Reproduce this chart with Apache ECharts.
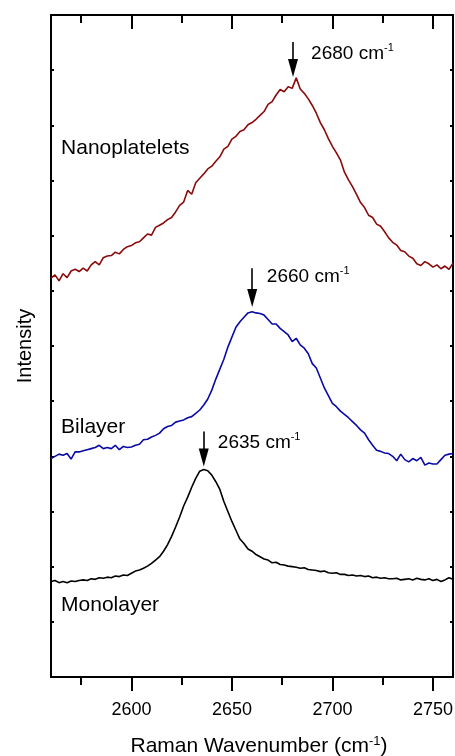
<!DOCTYPE html>
<html><head><meta charset="utf-8">
<script src="https://cdn.jsdelivr.net/npm/echarts@6/dist/echarts.min.js"></script>
<style>html,body{margin:0;padding:0;background:#fff}#c{width:455px;height:756px}</style>
</head><body><div id="c"></div>
<script>
// Raman shift (cm^-1)
const wavenumber = [2560,2562,2564,2566,2568,2570,2572,2574,2576,2578,2580,2582,2584,2586,2588,2590,2592,2594,2596,2598,
2600,2602,2604,2606,2608,2610,2612,2614,2616,2618,2620,2622,2624,2626,2628,2630,2632,2634,2636,2638,
2640,2642,2644,2646,2648,2650,2652,2654,2656,2658,2660,2662,2664,2666,2668,2670,2672,2674,2676,2678,
2680,2682,2684,2686,2688,2690,2692,2694,2696,2698,2700,2702,2704,2706,2708,2710,2712,2714,2716,2718,
2720,2722,2724,2726,2728,2730,2732,2734,2736,2738,2740,2742,2744,2746,2748,2750,2752,2754,2756,2758,2760];

// Intensities (stacked with offset, arbitrary units)
const nanoplatelets = [7.23,7.29,7.18,7.31,7.24,7.36,7.39,7.35,7.41,7.36,7.47,7.53,7.47,7.60,7.63,7.64,7.70,7.67,7.75,7.80,
7.82,7.87,7.89,7.96,8.03,8.01,8.15,8.19,8.23,8.29,8.33,8.43,8.55,8.61,8.82,8.75,8.96,9.04,9.12,9.21,
9.26,9.35,9.43,9.57,9.62,9.75,9.80,9.89,9.92,10.01,10.05,10.11,10.18,10.25,10.38,10.43,10.55,10.65,10.61,10.70,
10.67,10.86,10.66,10.58,10.48,10.36,10.22,10.05,9.92,9.76,9.62,9.50,9.37,9.15,9.01,8.89,8.75,8.60,8.51,8.37,
8.33,8.21,8.17,8.07,7.96,7.88,7.83,7.73,7.71,7.63,7.59,7.49,7.46,7.53,7.49,7.43,7.47,7.40,7.45,7.39,7.50];

const bilayer = [3.96,4.00,4.04,4.02,4.05,3.95,4.08,4.08,4.10,4.12,4.14,4.16,4.20,4.14,4.16,4.14,4.20,4.12,4.18,4.16,
4.17,4.20,4.22,4.30,4.31,4.35,4.38,4.42,4.50,4.54,4.56,4.62,4.64,4.66,4.70,4.72,4.78,4.84,4.93,5.04,
5.20,5.40,5.58,5.76,5.98,6.16,6.34,6.44,6.52,6.60,6.62,6.60,6.59,6.56,6.48,6.40,6.40,6.32,6.26,6.20,
6.08,6.14,6.02,5.96,5.86,5.68,5.60,5.42,5.24,5.10,4.96,4.90,4.82,4.76,4.70,4.63,4.56,4.48,4.42,4.30,
4.20,4.11,4.09,4.06,4.05,4.00,3.92,4.04,3.94,3.90,3.96,3.92,3.98,3.84,3.88,3.86,3.86,3.94,4.02,4.04,4.05];

const monolayer = [1.73,1.75,1.71,1.73,1.71,1.74,1.73,1.75,1.76,1.75,1.78,1.77,1.80,1.79,1.81,1.80,1.83,1.82,1.85,1.84,
1.88,1.92,1.94,1.97,2.01,2.06,2.12,2.18,2.28,2.40,2.55,2.72,2.90,3.10,3.26,3.44,3.60,3.73,3.76,3.74,
3.66,3.54,3.40,3.18,3.00,2.82,2.66,2.50,2.42,2.32,2.28,2.22,2.18,2.14,2.12,2.07,2.08,2.04,2.03,2.01,
2.00,1.99,1.97,1.98,1.95,1.94,1.93,1.91,1.92,1.89,1.88,1.89,1.86,1.86,1.84,1.85,1.83,1.84,1.82,1.83,
1.80,1.81,1.79,1.80,1.78,1.78,1.79,1.76,1.77,1.78,1.76,1.79,1.77,1.76,1.78,1.75,1.77,1.73,1.76,1.80,1.77];

const xMajorTicks = [2600, 2650, 2700, 2750];
const xMinorTicks = [2575, 2625, 2675, 2725];
const seriesNames = ['Nanoplatelets', 'Bilayer', 'Monolayer'];
const peakPositions = [2680, 2660, 2635];

const FONT = "'Liberation Sans', Arial, Helvetica, sans-serif";
const colors = ['#8b0a0a', '#0a0aa6', '#000000'];
const values = [nanoplatelets, bilayer, monolayer];

// annotation anchors in data space
const nameAnchor = [[2565.0, 9.58], [2565.0, 4.53], [2565.0, 1.30]];
const peakAnchor = [[2689.4, 11.30], [2667.4, 7.26], [2643.0, 4.25]];
const arrowAnchor = [[2680.4, 11.51, 11.04], [2660.1, 7.41, 6.87], [2636.0, 4.45, 3.98]];

const chart = echarts.init(document.getElementById('c'), null, {renderer: 'canvas'});

const series = values.map((vals, i) => ({
  type: 'line',
  name: seriesNames[i],
  xAxisIndex: 0, yAxisIndex: 0,
  data: wavenumber.map((w, j) => [w, vals[j]]),
  showSymbol: false,
  symbol: 'none',
  lineStyle: {color: colors[i], width: 1.6},
  itemStyle: {color: colors[i]},
  animation: false,
  z: 3,
  markPoint: {
    silent: true,
    symbol: 'circle',
    symbolSize: 0,
    animation: false,
    data: [
      {name: seriesNames[i], coord: nameAnchor[i],
       label: {show: true, position: 'right', distance: 0, formatter: '{b}', color: '#000', fontSize: 21, fontFamily: FONT}},
      {name: String(peakPositions[i]), coord: peakAnchor[i],
       label: {show: true, position: 'right', distance: 0,
         formatter: '{a|' + peakPositions[i] + ' cm}{s|-1}',
         rich: {
           a: {fontSize: 19, lineHeight: 22, color: '#000', fontFamily: FONT},
           s: {fontSize: 11, lineHeight: 11, verticalAlign: 'top', color: '#000', fontFamily: FONT}
         }}}
    ]
  },
  markLine: {
    silent: true,
    animation: false,
    symbol: ['none', 'triangle'],
    symbolSize: [10, 18],
    label: {show: false},
    lineStyle: {color: '#000', width: 1.6, type: 'solid'},
    emphasis: {disabled: true},
    data: [[
      {coord: [arrowAnchor[i][0], arrowAnchor[i][1]]},
      {coord: [arrowAnchor[i][0], arrowAnchor[i][2]]}
    ]]
  }
}));

const axisBase = {
  type: 'value', min: 2560, max: 2760,
  splitLine: {show: false}
};

chart.setOption({
  animation: false,
  backgroundColor: '#fff',
  grid: {left: 51, right: 2, top: 15, bottom: 79, containLabel: false, outerBoundsMode: 'none'},
  xAxis: [
    Object.assign({}, axisBase, {
      position: 'bottom',
      axisLine: {show: true, onZero: false, lineStyle: {color: '#000', width: 2}},
      axisTick: {show: true, inside: false, length: 14, customValues: xMajorTicks, lineStyle: {color: '#000', width: 2}},
      axisLabel: {show: true, customValues: xMajorTicks, margin: 24, fontSize: 18, color: '#000', fontFamily: FONT,
        formatter: v => String(v)},
      name: 'Raman Wavenumber (cm{s|-1})',
      nameLocation: 'middle',
      nameGap: 58,
      nameTextStyle: {
        fontSize: 21, color: '#000', fontFamily: FONT, lineHeight: 22, padding: [0, 0, 0, 14],
        rich: {s: {fontSize: 13, lineHeight: 13, verticalAlign: 'top', color: '#000', fontFamily: FONT}}
      }
    }),
    Object.assign({}, axisBase, {
      position: 'bottom',
      axisLine: {show: false, onZero: false},
      axisTick: {show: true, inside: false, length: 8, customValues: xMinorTicks, lineStyle: {color: '#000', width: 2}},
      axisLabel: {show: false, customValues: xMinorTicks}
    }),
    Object.assign({}, axisBase, {
      position: 'top',
      axisLine: {show: true, onZero: false, lineStyle: {color: '#000', width: 2}},
      axisTick: {show: true, inside: true, length: 14, customValues: xMajorTicks, lineStyle: {color: '#000', width: 2}},
      axisLabel: {show: false, customValues: xMajorTicks}
    }),
    Object.assign({}, axisBase, {
      position: 'top',
      axisLine: {show: false, onZero: false},
      axisTick: {show: true, inside: true, length: 8, customValues: xMinorTicks, lineStyle: {color: '#000', width: 2}},
      axisLabel: {show: false, customValues: xMinorTicks}
    })
  ],
  yAxis: [
    {
      type: 'value', min: 0, max: 12, interval: 1, position: 'left',
      axisLine: {show: true, onZero: false, lineStyle: {color: '#000', width: 2}},
      axisTick: {show: true, inside: true, length: 3, lineStyle: {color: '#000', width: 2}},
      axisLabel: {show: false},
      splitLine: {show: false},
      name: 'Intensity', nameLocation: 'middle', nameGap: 16,
      nameTextStyle: {fontSize: 20, color: '#000', fontFamily: FONT}
    },
    {
      type: 'value', min: 0, max: 12, interval: 1, position: 'right',
      axisLine: {show: true, onZero: false, lineStyle: {color: '#000', width: 2}},
      axisTick: {show: true, inside: true, length: 3, lineStyle: {color: '#000', width: 2}},
      axisLabel: {show: false},
      splitLine: {show: false}
    }
  ],
  series: series
});
</script>
</body></html>
